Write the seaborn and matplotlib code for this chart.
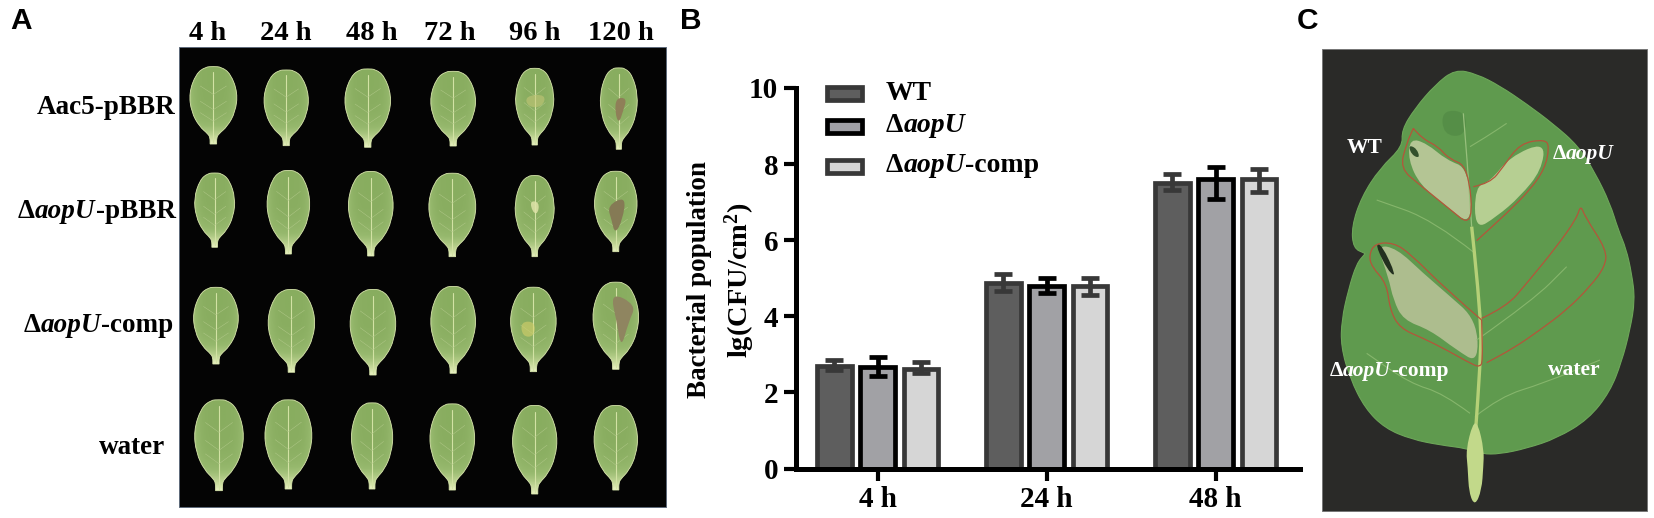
import numpy as np
import pandas as pd
import matplotlib.pyplot as plt
import seaborn as sns
from matplotlib.colors import LinearSegmentedColormap
from matplotlib.patches import PathPatch, Rectangle
from matplotlib.path import Path

# panel B values
times = ['4 h', '24 h', '48 h']
strains = ['WT', 'ΔaopU', 'ΔaopU-comp']
wt_vals = [2.70, 4.87, 7.50]
mut_vals = [2.68, 4.80, 7.60]
comp_vals = [2.62, 4.79, 7.60]
wt_hi = [0.16, 0.23, 0.25]
mut_hi = [0.25, 0.21, 0.32]
comp_hi = [0.17, 0.22, 0.27]
wt_lo = [0.10, 0.21, 0.17]
mut_lo = [0.25, 0.19, 0.53]
comp_lo = [0.11, 0.22, 0.33]
fills = ['#5e5e5e', '#a0a0a6', '#d6d6d6']
edges = ['#383838', '#000000', '#383838']

# panel A labels and leaves (positions read from a 2.306 x 3 zoom)
col_labels = ['4 h', '24 h', '48 h', '72 h', '96 h', '120 h']
col_label_x = [208, 286, 372, 450, 535, 621]
leaf_x = [[492, 660, 848, 1045, 1233, 1427], [495, 665, 855, 1043, 1233, 1420],
          [498, 672, 860, 1045, 1230, 1420], [505, 665, 858, 1043, 1233, 1420]]
leaf_top = [[203, 213, 210, 217, 208, 207], [522, 515, 518, 523, 530, 517],
            [865, 872, 872, 863, 865, 850], [1203, 1203, 1212, 1215, 1220, 1220]]
leaf_bot = [[432, 437, 442, 438, 435, 448], [742, 762, 768, 770, 770, 755],
            [1092, 1117, 1125, 1120, 1115, 1108], [1472, 1467, 1467, 1470, 1482, 1470]]
leaf_w = [[108, 102, 105, 103, 88, 85], [92, 98, 103, 108, 90, 98],
          [103, 107, 105, 103, 105, 105], [112, 108, 95, 103, 102, 100]]

# panel C outlines (3x zoom coords from x=1300)
leaf_c = [(465, 208), (530, 222), (600, 258), (680, 312), (760, 372), (835, 438), (885, 518),
          (930, 610), (955, 690), (978, 745), (995, 820), (1005, 900), (990, 990), (965, 1085),
          (930, 1175), (865, 1258), (770, 1315), (680, 1345), (600, 1362), (545, 1362), (500, 1345),
          (420, 1335), (335, 1318), (255, 1285), (195, 1225), (150, 1135), (123, 1040), (125, 960),
          (145, 870), (170, 790), (195, 762), (195, 760), (160, 745), (155, 680), (185, 590),
          (240, 505), (308, 440), (305, 390), (345, 325), (405, 255)]
pale_wt = [(330, 415), (380, 430), (440, 480), (505, 505), (518, 680), (440, 620), (360, 555), (325, 480)]
pale_mut = [(525, 560), (570, 545), (630, 470), (735, 425), (725, 510), (660, 590), (590, 650), (525, 690)]
pale_comp = [(230, 735), (290, 745), (370, 820), (440, 880), (530, 960), (535, 1090), (470, 1050),
             (390, 990), (310, 960), (280, 900), (265, 830)]
line_wt = [(340, 385), (365, 415), (415, 440), (445, 475), (505, 500), (520, 685), (440, 620),
           (360, 555), (300, 505), (320, 430), (340, 385)]
line_mut = [(520, 560), (570, 550), (610, 500), (660, 430), (735, 418), (748, 440), (735, 505),
            (690, 570), (620, 640), (530, 722)]
line_comp = [(545, 960), (440, 870), (330, 760), (280, 728), (225, 730), (207, 765), (215, 800),
             (260, 850), (270, 930), (300, 985), (370, 1015), (440, 1050), (520, 1095), (540, 1100),
             (548, 1085), (545, 960)]
line_water = [(545, 955), (620, 920), (680, 850), (770, 740), (830, 655), (842, 615), (855, 650),
              (920, 750), (915, 800), (870, 860), (800, 930), (720, 990), (640, 1045), (560, 1088)]
stem_c = [(518, 1270), (534, 1270), (552, 1350), (550, 1400), (545, 1470), (525, 1518), (507, 1480),
          (503, 1400), (498, 1350)]
midrib_top = [(490, 340), (503, 500), (515, 680)]
midrib_low = [(515, 680), (545, 960), (540, 1100), (527, 1290)]
veins_c = [[(525, 1250), (600, 1190), (730, 1150), (900, 1080)],
           [(510, 1240), (430, 1180), (330, 1150), (200, 1060)],
           [(510, 440), (560, 410), (620, 370)],
           [(530, 1020), (700, 900), (800, 800)],
           [(525, 760), (400, 660), (230, 600)]]

W, H = 1654, 518
sns.set_theme(style='white')
plt.rcParams['font.family'] = ['Liberation Serif', 'DejaVu Serif']
plt.rcParams['font.weight'] = 'bold'
plt.rcParams['text.color'] = 'black'
plt.rcParams['mathtext.fontset'] = 'custom'
plt.rcParams['mathtext.bf'] = 'Liberation Serif:bold'
plt.rcParams['mathtext.rm'] = 'Liberation Serif:bold'
plt.rcParams['mathtext.default'] = 'bf'

fig = plt.figure(figsize=(W / 100, H / 100), dpi=100, facecolor='white')

# overlay in picture pixels, for the photo panels and loose text
ov = fig.add_axes([0, 0, 1, 1], zorder=3)
ov.set_xlim(0, W)
ov.set_ylim(H, 0)
ov.axis('off')

# bar panel
ax = fig.add_axes([795.5 / W, 1 - 468.5 / H, 504.5 / W, 380.5 / H], zorder=1)
df = pd.DataFrame({'time': times * 3,
                   'strain': [s for s in strains for _ in times],
                   'value': wt_vals + mut_vals + comp_vals})
sns.barplot(data=df, x='time', y='value', hue='strain', hue_order=strains, palette=fills,
            width=0.77, gap=0.2, linewidth=3.4, errorbar=None, legend=False, ax=ax)
hi = [wt_hi, mut_hi, comp_hi]
lo = [wt_lo, mut_lo, comp_lo]
for i in range(3):
    bars = sorted(ax.patches[i * 3:(i + 1) * 3], key=lambda b: b.get_x())
    xs = [b.get_x() + b.get_width() / 2 for b in bars]
    ys = [b.get_height() for b in bars]
    for b in bars:
        b.set_edgecolor(edges[i])
    ax.errorbar(xs, ys, yerr=[lo[i], hi[i]], fmt='none', ecolor=edges[i], elinewidth=3.4,
                capsize=6.5, capthick=3.4, zorder=5)
ax.set_xlim(-0.486, 2.5)
ax.set_ylim(0, 10)
ax.set_yticks([0, 2, 4, 6, 8, 10])
ax.set_xlabel('')
ax.set_ylabel('')
ax.patch.set_alpha(0)
sns.despine(ax=ax)
for s in ['left', 'bottom']:
    ax.spines[s].set_linewidth(3.6)
    ax.spines[s].set_color('black')
ax.tick_params(axis='both', left=True, bottom=True, color='black', width=3, length=8.5,
               labelsize=21, labelcolor='black', pad=4)
for lab in ax.get_xticklabels() + ax.get_yticklabels():
    lab.set_fontweight('bold')
ov.text(700, 280, 'Bacterial population', rotation=90, ha='center', va='center', fontsize=19.5)
ov.text(740, 280, 'lg(CFU/cm$^{2}$)', rotation=90, ha='center', va='center', fontsize=20.5)


def mixed(x, y, parts, size, color='black', align='left'):
    # bold / bold italic pieces laid end to end, real text each
    rend = fig.canvas.get_renderer()
    items = [ov.text(0, y, s, fontsize=size, color=color, va='center', ha='left', zorder=6,
                     fontstyle='italic' if it else 'normal', fontweight='bold') for s, it in parts]
    widths = [t.get_window_extent(rend).width for t in items]
    total = sum(widths)
    cur = x - total if align == 'right' else x - total / 2 if align == 'center' else x
    for t, w in zip(items, widths):
        t.set_x(cur)
        cur += w


def delta(tail=''):
    parts = [('Δ', False), ('aopU', True)]
    return parts + [(tail, False)] if tail else parts


# legend of panel B
for yc, f, e in zip([93, 126, 166], fills, edges):
    ov.add_patch(Rectangle((827, yc - 6.5), 35, 13, facecolor=f, edgecolor=e, linewidth=3.4))
mixed(886, 93, [('WT', False)], 20)
mixed(886, 126, delta(), 20)
mixed(886, 166, delta('-comp'), 20)


def smooth(points):
    # closed quadratic curve through the midpoints of a polygon
    pts = np.asarray(points, dtype=float)
    mids = (pts + np.roll(pts, -1, axis=0)) / 2
    verts = [mids[-1]]
    codes = [Path.MOVETO]
    for p, m in zip(pts, mids):
        verts += [p, m]
        codes += [Path.CURVE3, Path.CURVE3]
    return Path(verts, codes)


def smooth_line(points):
    pts = np.asarray(points, dtype=float)
    verts = [pts[0]]
    codes = [Path.MOVETO]
    for a, b in zip(pts[1:-1], pts[2:]):
        verts += [a, (a + b) / 2]
        codes += [Path.CURVE3, Path.CURVE3]
    verts.append(pts[-1])
    codes.append(Path.LINETO)
    return Path(verts, codes)


# panel A
ov.add_patch(Rectangle((179, 47), 487, 460, facecolor='#040404', edgecolor='#5d6a7a', linewidth=0.7))
for xc, lab in zip(col_label_x, col_labels):
    ov.text(xc, 33, lab, ha='center', va='center', fontsize=20.5)
mixed(175.6, 108, [('Aac5-pBBR', False)], 19.5, align='right')
mixed(175.6, 212, delta('-pBBR'), 19.5, align='right')
mixed(173.5, 325, delta('-comp'), 19.5, align='right')
mixed(165, 447, [('water', False)], 19.5, align='right')

leaf_cmap = LinearSegmentedColormap.from_list('leaf', ['#83a85a', '#97b96e', '#c4d898', '#e8f0c0'])
leaf_shape = [(0, -0.015), (0.17, -0.01), (0.37, 0.08), (0.52, 0.33), (0.47, 0.58), (0.3, 0.77), (0.11, 0.87),
              (0.07, 0.92), (0.07, 1.0), (0.07, 1.0), (-0.07, 1.0), (-0.07, 1.0), (-0.07, 0.92),
              (-0.11, 0.87), (-0.3, 0.77), (-0.47, 0.58), (-0.52, 0.33), (-0.37, 0.08), (-0.17, -0.01)]
lesions = {(0, 5): ('#8f7f58', 1, [(-0.08, 0.36), (0.22, 0.36), (0.12, 0.52), (0.0, 0.68), (-0.1, 0.55)]),
           (1, 5): ('#857a55', 1, [(-0.2, 0.42), (0.24, 0.3), (0.16, 0.6), (-0.02, 0.78), (-0.1, 0.6)]),
           (2, 5): ('#8f8560', 1, [(-0.12, 0.1), (0.45, 0.25), (0.28, 0.45), (0.12, 0.76), (0.02, 0.45)]),
           (0, 4): ('#c8c878', 0.55, [(-0.25, 0.35), (0.3, 0.33), (0.2, 0.5), (-0.18, 0.5)]),
           (1, 4): ('#dfe3a8', 0.85, [(-0.12, 0.3), (0.12, 0.32), (0.08, 0.47), (-0.06, 0.44)]),
           (2, 4): ('#d6d06a', 0.6, [(-0.28, 0.4), (0.04, 0.4), (0.02, 0.58), (-0.24, 0.58)])}
u, v = np.meshgrid(np.linspace(-0.5, 0.5, 40), np.linspace(0, 1, 60))
shade = np.clip(0.1 + 0.9 * v ** 5 + 6 * np.abs(u) ** 4, 0, 1)

for r in range(4):
    for c in range(6):
        cx = leaf_x[r][c] / 2.306
        top = leaf_top[r][c] / 3
        bot = leaf_bot[r][c] / 3
        wd = leaf_w[r][c] / 2.306
        ht = bot - top
        shape = [(cx + a * wd, top + b * ht) for a, b in leaf_shape]
        patch = PathPatch(smooth(shape), facecolor='none', edgecolor='#d8e6ac', linewidth=0.6, zorder=3)
        ov.add_patch(patch)
        im = ov.imshow(shade, cmap=leaf_cmap, vmin=0, vmax=1, aspect='auto', zorder=2,
                       extent=(cx - wd / 2 - 2, cx + wd / 2 + 2, bot, top - 1))
        im.set_clip_path(patch)
        ov.plot([cx, cx], [top + 0.06 * ht, bot - 2], color='#d2e2a4', lw=0.8, zorder=3)
        for f in (0.35, 0.55, 0.7):
            for side in (-1, 1):
                ov.plot([cx, cx + side * 0.28 * wd], [top + f * ht, top + (f - 0.11) * ht],
                        color='#b0c888', lw=0.35, zorder=3)
        if (r, c) in lesions:
            col, al, poly = lesions[(r, c)]
            ov.add_patch(PathPatch(smooth([(cx + a * wd, top + b * ht) for a, b in poly]),
                                   facecolor=col, edgecolor='none', alpha=al, zorder=4))

ov.set_xlim(0, W)
ov.set_ylim(H, 0)


# panel C
def c_pts(points):
    return [(1300 + px / 3, py / 3) for px, py in points]


ov.add_patch(Rectangle((1322, 49), 325, 462, facecolor='#2a2a28', edgecolor='#777777', linewidth=0.7))
ov.add_patch(PathPatch(smooth(c_pts(leaf_c)), facecolor='#5f9a4e', edgecolor='#6da659', linewidth=0.8, zorder=2))
for poly, col in [(pale_wt, '#b4c594'), (pale_mut, '#b6cf92'), (pale_comp, '#adbd8e')]:
    ov.add_patch(PathPatch(smooth(c_pts(poly)), facecolor=col, edgecolor='none', zorder=3))
dark_marks = [[(225, 733), (245, 733), (290, 830), (265, 815)],
              [(325, 435), (350, 445), (360, 475), (335, 465)],
              [(425, 330), (500, 335), (495, 410), (430, 405)]]
for poly, col, a in zip(dark_marks, ['#23301f', '#33502c', '#457a3c'], [1, 1, 0.35]):
    ov.add_patch(PathPatch(smooth(c_pts(poly)), facecolor=col, edgecolor='none', alpha=a, zorder=3))
for vein in veins_c:
    ov.add_patch(PathPatch(smooth_line(c_pts(vein)), facecolor='none', edgecolor='#86b66c', linewidth=0.8, zorder=4))
ov.add_patch(PathPatch(smooth_line(c_pts(midrib_top)), facecolor='none', edgecolor='#97c07c', linewidth=0.9, zorder=4))
ov.add_patch(PathPatch(smooth_line(c_pts(midrib_low)), facecolor='none', edgecolor='#b5d077', linewidth=2.4, zorder=4))
ov.add_patch(PathPatch(smooth(c_pts(stem_c)), facecolor='#c2d98a', edgecolor='none', zorder=4))
for line in [line_wt, line_mut, line_comp, line_water]:
    ov.add_patch(PathPatch(smooth_line(c_pts(line)), facecolor='none', edgecolor='#b4553a', linewidth=0.9, zorder=5))
for t_x, t_y, parts, al in [(1365, 148, [('WT', False)], 'center'), (1583, 154, delta(), 'center'),
                            (1389, 371, delta('-comp'), 'center'), (1574, 370, [('water', False)], 'center')]:
    mixed(t_x, t_y, parts, 15.5, color='white', align=al)

# panel letters
for xc, lab in zip([21, 691, 1308], ['A', 'B', 'C']):
    ov.text(xc, 21, lab, ha='center', va='center', fontsize=21.5, family='Liberation Sans', color='black')

fig.savefig('out.png', dpi=100)
